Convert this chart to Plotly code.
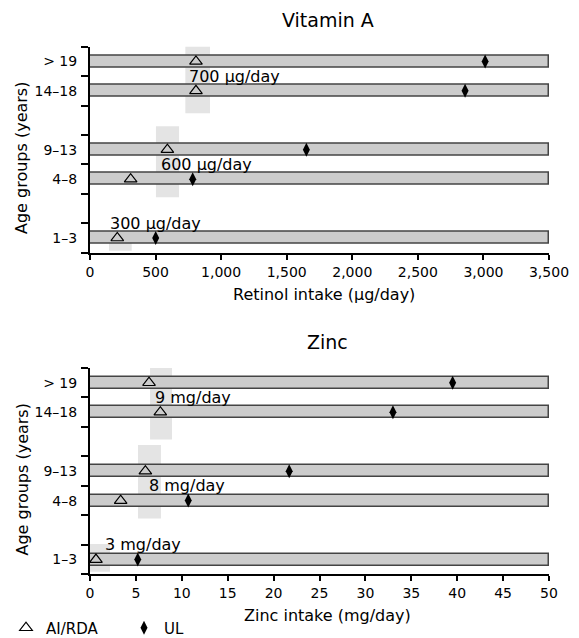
import plotly.graph_objects as go

# ---------------- data ----------------
age_groups = ["1–3", "4–8", "9–13", "14–18", "> 19"]
group_pos = [0.5, 2.5, 3.5, 5.5, 6.5]
group_bounds = [0, 1, 2, 3, 4, 5, 6, 7]

# Vitamin A (retinol, µg/day)
vita_bar_end = [3500, 3500, 3500, 3500, 3500]
vita_ai_rda = [208, 310, 590, 808, 808]
vita_ul = [501, 783, 1650, 2860, 3013]
vita_ticks = [0, 500, 1000, 1500, 2000, 2500, 3000, 3500]
vita_ref_labels = ["300 µg/day", "600 µg/day", "700 µg/day"]
vita_ref_label_x = [134, 523, 740]
vita_ref_label_y = [1, 3, 6]
vita_ref_x0 = [145, 503, 727]
vita_ref_x1 = [318, 679, 915]
vita_ref_y0 = [0.07, 1.88, 4.74]
vita_ref_y1 = [0.70, 4.30, 7.16]

# Zinc (mg/day)
zinc_bar_end = [50, 50, 50, 50, 50]
zinc_ai_rda = [0.65, 3.34, 6.03, 7.66, 6.43]
zinc_ul = [5.2, 10.7, 21.7, 33.0, 39.5]
zinc_ticks = [0, 5, 10, 15, 20, 25, 30, 35, 40, 45, 50]
zinc_ref_labels = ["3 mg/day", "8 mg/day", "9 mg/day"]
zinc_ref_label_x = [1.45, 6.17, 6.89]
zinc_ref_label_y = [1, 3, 6]
zinc_ref_x0 = [-0.29, 5.23, 6.54]
zinc_ref_x1 = [2.18, 7.73, 8.93]
zinc_ref_y0 = [0.09, 1.89, 4.57]
zinc_ref_y1 = [1.03, 4.39, 7.04]

# ---------------- figure ----------------
W, H = 579, 638
ML, MR = 90, 30
PW = W - ML - MR
FONT = "DejaVu Sans"

def py(p):
    return 1 - p / H

def px(p):
    return (p - ML) / PW

fig = go.Figure()

panels = [
    dict(xa="x", ya="y", bar_end=vita_bar_end, ai=vita_ai_rda, ul=vita_ul, show=True,
         labels=vita_ref_labels, lx=vita_ref_label_x, ly=vita_ref_label_y,
         x0=vita_ref_x0, x1=vita_ref_x1, y0=vita_ref_y0, y1=vita_ref_y1),
    dict(xa="x2", ya="y2", bar_end=zinc_bar_end, ai=zinc_ai_rda, ul=zinc_ul, show=False,
         labels=zinc_ref_labels, lx=zinc_ref_label_x, ly=zinc_ref_label_y,
         x0=zinc_ref_x0, x1=zinc_ref_x1, y0=zinc_ref_y0, y1=zinc_ref_y1),
]

for p in panels:
    fig.add_trace(go.Bar(
        x=p["bar_end"], y=group_pos, base=0, orientation="h", width=0.41,
        marker=dict(color="#cccccc", line=dict(color="#444444", width=1.5)),
        xaxis=p["xa"], yaxis=p["ya"], showlegend=False, hoverinfo="skip"))
    fig.add_trace(go.Scatter(
        x=p["ai"], y=group_pos, mode="markers", name="AI/RDA",
        marker=dict(symbol="triangle-up-open", size=11, color="black",
                    line=dict(color="black", width=1.2)),
        xaxis=p["xa"], yaxis=p["ya"], showlegend=p["show"]))
    fig.add_trace(go.Scatter(
        x=p["ul"], y=group_pos, mode="markers", name="UL",
        marker=dict(symbol="diamond-tall", size=10, color="black"),
        xaxis=p["xa"], yaxis=p["ya"], showlegend=p["show"]))
    for a, b, c, d in zip(p["x0"], p["x1"], p["y0"], p["y1"]):
        fig.add_shape(type="rect", xref=p["xa"], yref=p["ya"], x0=a, x1=b, y0=c, y1=d,
                      fillcolor="#e4e4e4", line=dict(width=0), layer="below")
    for t, x, y in zip(p["labels"], p["lx"], p["ly"]):
        fig.add_annotation(text=t, x=x, y=y, xref=p["xa"], yref=p["ya"],
                           xanchor="left", yanchor="middle", showarrow=False,
                           font=dict(size=16, color="black", family=FONT))

yaxis_common = dict(
    range=[0, 7], tickmode="array", tickvals=group_pos, ticktext=age_groups,
    ticks="", ticklabelstandoff=8, showline=True, linewidth=2, linecolor="black",
    showgrid=False, zeroline=False, fixedrange=True, automargin=False,
    tickfont=dict(size=14, color="black", family=FONT),
    minor=dict(tickmode="array", tickvals=group_bounds, ticks="outside",
               ticklen=7, tickwidth=2, tickcolor="black", showgrid=False),
)
xaxis_common = dict(
    showline=True, linewidth=2, linecolor="black", ticks="outside", ticklen=5,
    tickwidth=2, tickcolor="black", showgrid=False, zeroline=False, automargin=False,
    tickfont=dict(size=14, color="black", family=FONT),
)

top_dom = [py(252.7), py(46.7)]
bot_dom = [py(574.3), py(368)]

fig.update_layout(
    width=W, height=H,
    margin=dict(l=ML, r=MR, t=0, b=0, autoexpand=False),
    plot_bgcolor="white", paper_bgcolor="white",
    font=dict(family=FONT, color="black"),
    bargap=0,
    xaxis=dict(domain=[0, 1], anchor="y", range=[0, 3500], tickvals=vita_ticks,
               tickformat=",", **xaxis_common),
    yaxis=dict(domain=top_dom, anchor="x", **yaxis_common),
    xaxis2=dict(domain=[0, 1], anchor="y2", range=[0, 50], tickvals=zinc_ticks,
                **xaxis_common),
    yaxis2=dict(domain=bot_dom, anchor="x2", **yaxis_common),
    legend=dict(orientation="h", x=px(6), xanchor="left", y=py(628), yanchor="middle",
                font=dict(size=15, color="black", family=FONT), entrywidth=73,
                bgcolor="rgba(0,0,0,0)"),
)

# titles
titles = [
    ("Vitamin A", px(328), py(20), 0, 19),
    ("Zinc", px(327), py(341.7), 0, 19),
    ("Retinol intake (µg/day)", px(323.5), py(294), 0, 16),
    ("Zinc intake (mg/day)", px(327), py(615), 0, 16),
    ("Age groups (years)", px(22), py(158), -90, 16),
    ("Age groups (years)", px(22), py(479.5), -90, 16),
]
for t, x, y, ang, sz in titles:
    fig.add_annotation(text=t, x=x, y=y, xref="paper", yref="paper", xanchor="center",
                       yanchor="middle", showarrow=False, textangle=ang,
                       font=dict(size=sz, color="black", family=FONT))

fig.write_html("out.html", config={"displayModeBar": False},
               post_script="document.body.style.margin='0';")
